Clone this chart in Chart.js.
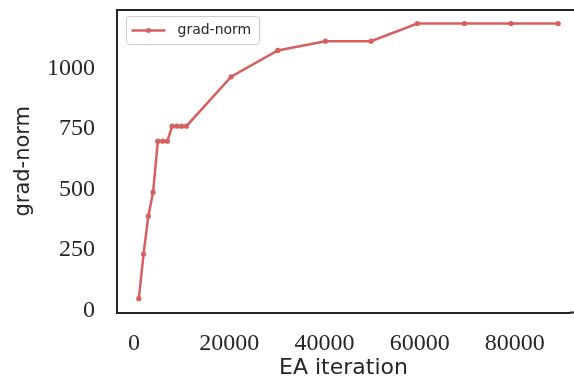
<!DOCTYPE html>
<html>
<head>
<meta charset="utf-8">
<script src="https://cdn.jsdelivr.net/npm/chart.js@4.4.1/dist/chart.umd.min.js"></script>
<style>
  html, body { margin: 0; padding: 0; background: #fff; }
  #wrap { width: 574px; height: 389px; }
</style>
</head>
<body>
<div id="wrap"><canvas id="gradChart" width="574" height="389"></canvas></div>
<script>
// Data
const iterations = [1000, 2000, 3000, 4000, 5000, 6000, 7000, 8000, 9000, 10000, 11000,
                    20400, 30200, 40200, 49800, 59500, 69400, 79200, 89100];
const gradNorm = [48, 232, 389, 488, 699, 699, 699, 761, 761, 761, 761,
                  965, 1074, 1112, 1112, 1185, 1185, 1185, 1185];
const xTicks = [0, 20000, 40000, 60000, 80000];
const yTicks = [0, 250, 500, 750, 1000];

const lineColor = '#d65f5f';
const inkColor = '#262626';

// Top spine + framed legend (matplotlib style)
const framePlugin = {
    id: 'frame',
    afterDraw(chart) {
        const { ctx, chartArea } = chart;
        ctx.save();
        ctx.strokeStyle = inkColor;
        ctx.lineWidth = 2;
        ctx.beginPath();
        ctx.moveTo(chartArea.left - 1, chartArea.top);
        ctx.lineTo(chart.width, chartArea.top);
        ctx.stroke();
        // bottom spine runs past the cropped right edge as well
        ctx.beginPath();
        ctx.moveTo(chartArea.right, chartArea.bottom);
        ctx.lineTo(chart.width, chartArea.bottom);
        ctx.stroke();

        // legend box
        const ds = chart.data.datasets[0];
        const bx = chartArea.left + 9.5, by = chartArea.top + 6.5, bw = 133, bh = 28;
        ctx.fillStyle = 'rgba(255,255,255,0.8)';
        ctx.strokeStyle = '#cccccc';
        ctx.lineWidth = 1;
        ctx.beginPath();
        ctx.roundRect(bx, by, bw, bh, 3);
        ctx.fill();
        ctx.stroke();

        const cy = by + bh / 2;
        ctx.strokeStyle = ds.borderColor;
        ctx.lineWidth = 2.5;
        ctx.beginPath();
        ctx.moveTo(bx + 5, cy);
        ctx.lineTo(bx + 39, cy);
        ctx.stroke();
        ctx.fillStyle = ds.borderColor;
        ctx.beginPath();
        ctx.arc(bx + 22, cy, 2.5, 0, Math.PI * 2);
        ctx.fill();

        ctx.fillStyle = inkColor;
        ctx.font = '14px "DejaVu Sans"';
        ctx.textBaseline = 'middle';
        ctx.textAlign = 'left';
        ctx.fillText(ds.label, bx + 51, cy);
        ctx.restore();
    }
};

function initializeChart() {
    const ctx = document.getElementById('gradChart').getContext('2d');
    new Chart(ctx, {
        type: 'line',
        data: {
            datasets: [{
                label: 'grad-norm',
                data: iterations.map((x, i) => ({ x: x, y: gradNorm[i] })),
                borderColor: lineColor,
                backgroundColor: lineColor,
                borderWidth: 2.5,
                pointRadius: 2.6,
                pointBorderWidth: 0,
                pointBackgroundColor: lineColor,
                tension: 0,
                fill: false
            }]
        },
        options: {
            responsive: false,
            animation: false,
            devicePixelRatio: 1,
            layout: { padding: { top: 10, right: 0, left: 0, bottom: 0 } },
            plugins: {
                legend: { display: false },
                tooltip: { enabled: false }
            },
            scales: {
                x: {
                    type: 'linear',
                    min: -3580,
                    max: 91580,
                    afterFit: scale => {
                        scale.height = 76.5;
                        scale.paddingLeft = 0;
                        scale.paddingRight = 0;
                    },
                    afterBuildTicks: scale => { scale.ticks = xTicks.map(v => ({ value: v })); },
                    grid: { display: false, drawTicks: false },
                    border: { display: true, color: inkColor, width: 2 },
                    ticks: {
                        padding: 17,
                        color: inkColor,
                        maxRotation: 0,
                        font: { family: '"Liberation Serif"', size: 24 },
                        callback: v => String(v)
                    },
                    title: {
                        display: true,
                        text: 'EA iteration',
                        color: inkColor,
                        font: { family: '"DejaVu Sans"', size: 22 },
                        padding: { top: 0, bottom: 8 }
                    }
                },
                y: {
                    min: -9.3,
                    max: 1241,
                    afterFit: scale => {
                        scale.width = 117;
                        scale.paddingTop = 0;
                        scale.paddingBottom = 0;
                    },
                    afterBuildTicks: scale => { scale.ticks = yTicks.map(v => ({ value: v })); },
                    grid: { display: false, drawTicks: false },
                    border: { display: true, color: inkColor, width: 2 },
                    ticks: {
                        padding: 22,
                        color: inkColor,
                        font: { family: '"Liberation Serif"', size: 24 },
                        callback: v => String(v)
                    },
                    title: {
                        display: true,
                        text: 'grad-norm',
                        color: inkColor,
                        font: { family: '"DejaVu Sans"', size: 21 },
                        padding: { top: 11, bottom: 0 }
                    }
                }
            }
        },
        plugins: [framePlugin]
    });
}

document.addEventListener('DOMContentLoaded', initializeChart);
</script>
</body>
</html>
